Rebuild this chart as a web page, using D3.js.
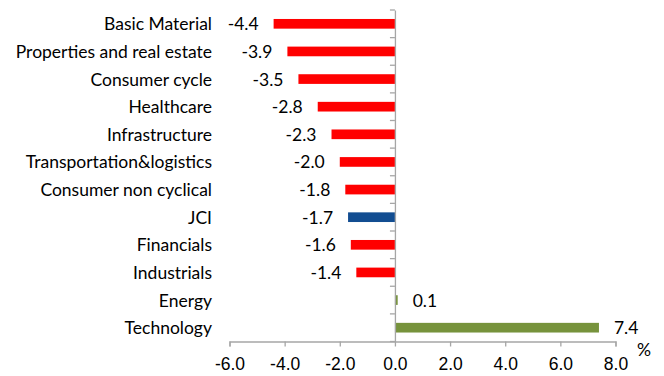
<!DOCTYPE html>
<html lang="en">
<head>
  <meta charset="UTF-8" />
  <title>Sector change</title>
  <style>
    html, body { margin:0; padding:0; background:#fff; }
    svg { display:block; font-family: Lato, "Open Sans", sans-serif; }
    .lbl { font-size:17.5px; fill:#000; }
  </style>
</head>
<body>
  <svg id="chart" width="664" height="376"></svg>
  <script src="https://d3js.org/d3.v7.min.js"></script>
  <script>
  const categories = ["Basic Material","Properties and real estate","Consumer cycle","Healthcare",
    "Infrastructure","Transportation&logistics","Consumer non cyclical","JCI","Financials",
    "Industrials","Energy","Technology"];
  const values = [-4.4,-3.9,-3.5,-2.8,-2.3,-2.0,-1.8,-1.7,-1.6,-1.4,0.1,7.4];
  const barColors = ["#ff0000","#ff0000","#ff0000","#ff0000","#ff0000","#ff0000","#ff0000",
    "#124d91","#ff0000","#ff0000","#77933c","#77933c"];
  const xTicks = [-6,-4,-2,0,2,4,6,8];

  const svg = d3.select('#chart');
  const x = d3.scaleLinear().domain([-6, 8]).range([229.5, 615.5]);
  const y = d3.scaleBand().domain(categories).range([10, 341.5]).paddingInner(0).paddingOuter(0);
  const barH = y.bandwidth() * 0.35;
  const axisCol = '#a6a6a6';

  // bars
  svg.selectAll('rect.bar').data(categories).enter().append('rect')
    .attr('class','bar')
    .attr('x', (d,i) => x(Math.min(0, values[i])))
    .attr('width', (d,i) => Math.abs(x(values[i]) - x(0)))
    .attr('y', d => y(d) + (y.bandwidth() - barH)/2)
    .attr('height', barH)
    .attr('fill', (d,i) => barColors[i]);

  // value labels
  svg.selectAll('text.val').data(categories).enter().append('text')
    .attr('class','lbl val')
    .attr('x', (d,i) => values[i] < 0 ? x(values[i]) - 15 : x(values[i]) + 15)
    .attr('y', d => y(d) + y.bandwidth()/2)
    .attr('dy','0.37em')
    .attr('text-anchor', (d,i) => values[i] < 0 ? 'end' : 'start')
    .text((d,i) => values[i].toFixed(1));

  // category labels
  svg.selectAll('text.cat').data(categories).enter().append('text')
    .attr('class','lbl cat')
    .attr('x', 212)
    .attr('y', d => y(d) + y.bandwidth()/2)
    .attr('dy','0.37em')
    .attr('text-anchor','end')
    .text(d => d);

  // x axis
  const xAxis = svg.append('g').attr('transform', `translate(0,${y.range()[1]})`)
    .call(d3.axisBottom(x).tickValues(xTicks).tickSize(5).tickPadding(11).tickFormat(d => d.toFixed(1)));
  xAxis.select('.domain').attr('stroke', axisCol).attr('stroke-width', 1.3);
  xAxis.selectAll('.tick line').attr('stroke', axisCol).attr('stroke-width', 1.3);
  xAxis.selectAll('.tick text').attr('class','lbl').attr('font-family', null).attr('font-size', null).attr('fill','#000');

  // y axis at zero
  const yAxis = svg.append('g').attr('transform', `translate(${x(0)},0)`)
    .call(d3.axisLeft(y).tickSize(0).tickFormat(''));
  yAxis.select('.domain').attr('stroke', axisCol).attr('stroke-width', 1.3);
  const bounds = categories.map(c => y(c)).concat([y.range()[1]]);
  yAxis.selectAll('line.bnd').data(bounds).enter().append('line')
    .attr('x1', -5).attr('x2', 0)
    .attr('y1', d => d).attr('y2', d => d)
    .attr('stroke', axisCol).attr('stroke-width', 1.3);

  // unit
  svg.append('text').attr('class','lbl').attr('x', 644).attr('y', 350)
    .attr('dy','0.35em').attr('text-anchor','middle').text('%');
  </script>
</body>
</html>
